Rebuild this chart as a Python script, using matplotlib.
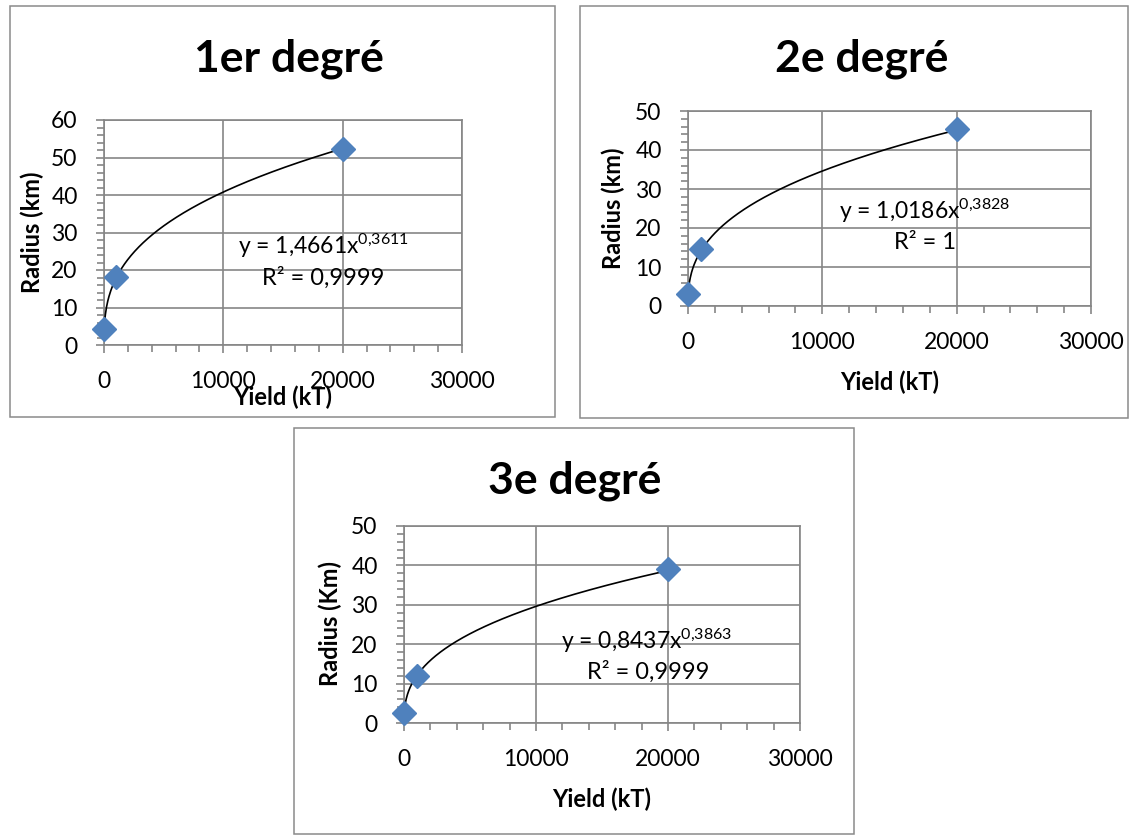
import matplotlib
matplotlib.use('Agg')
import matplotlib.pyplot as plt
import numpy as np
from matplotlib.patches import Rectangle
from matplotlib.ticker import MultipleLocator, FixedLocator

plt.rcParams['font.family'] = ['Lato', 'DejaVu Sans']
plt.rcParams['mathtext.default'] = 'regular'

# ---- data ----
yield_kt = [15, 1000, 20000]
radius_1 = [4.3, 18.1, 52.3]
radius_2 = [3.1, 14.6, 45.4]
radius_3 = [2.5, 11.9, 39.1]
titles = ['1er degré', '2e degré', '3e degré']
ylabels = ['Radius (km)', 'Radius (km)', 'Radius (Km)']
xlabel_text = 'Yield (kT)'
fit_a = [1.4661, 1.0186, 0.8437]
fit_b = [0.3611, 0.3828, 0.3863]
fit_a_txt = ['1,4661', '1,0186', '0,8437']
fit_b_txt = ['0{,}3611', '0{,}3828', '0{,}3863']
r2_text = ['0,9999', '1', '0,9999']
y_max = [60, 50, 50]
x_ticks = [0, 10000, 20000, 30000]

W, H = 1132, 835
fig = plt.figure(figsize=(W / 100, H / 100), dpi=100)

GRAY = '#868686'
BLUE = '#4F81BD'

def fx(px):
    return px / W

def fy(py):
    return 1 - py / H

# layout in pixels
layouts = [
    dict(ax=(104, 462, 120, 345), frame=(10, 6, 555, 417), title=(289, 59), ylab=(32, 232),
         xlab=(283, 397), eq=(323, 246), r2=(323, 278)),
    dict(ax=(688, 1091, 111, 306), frame=(580, 6, 1128, 418), title=(862, 59), ylab=(613, 208),
         xlab=(890, 382), eq=(925, 211), r2=(925, 243)),
    dict(ax=(404, 800, 526, 723), frame=(294, 428, 854, 834), title=(575, 481), ylab=(330, 624),
         xlab=(602, 799), eq=(647, 641), r2=(648, 672)),
]
radii = [radius_1, radius_2, radius_3]

for i, L in enumerate(layouts):
    x0, x1, yt, yb = L['ax']
    fl, ft, fr, fb = L['frame']
    fig.patches.append(Rectangle((fx(fl), fy(fb)), fx(fr - fl), (fb - ft) / H,
                                 transform=fig.transFigure, fill=False,
                                 edgecolor='#8a8a8a', lw=1.1, zorder=0))
    ax = fig.add_axes([fx(x0), fy(yb), fx(x1 - x0), (yb - yt) / H])
    ax.set_xlim(0, 30000)
    ax.set_ylim(0, y_max[i])
    ax.xaxis.set_major_locator(FixedLocator(x_ticks))
    ax.xaxis.set_minor_locator(MultipleLocator(2000))
    ax.yaxis.set_major_locator(MultipleLocator(10))
    ax.yaxis.set_minor_locator(MultipleLocator(2))
    ax.set_xticklabels([str(t) for t in x_ticks])
    ax.grid(True, which='major', color=GRAY, lw=1.2)
    ax.set_axisbelow(True)
    for s in ax.spines.values():
        s.set_color(GRAY)
        s.set_linewidth(1.2)
    ax.tick_params(which='major', direction='out', length=6, width=1.2, color=GRAY,
                   labelsize=16.5, labelcolor='black')
    ax.tick_params(axis='x', which='major', pad=13)
    ax.tick_params(axis='y', which='major', pad=13)
    ax.tick_params(which='minor', direction='out', length=5, width=1.2, color=GRAY)

    xs = np.linspace(yield_kt[0], yield_kt[-1], 400)
    ax.plot(xs, fit_a[i] * xs ** fit_b[i], color='black', lw=1.2, zorder=3)
    ax.plot(yield_kt, radii[i], linestyle='none', marker='D', markersize=12.5,
            color=BLUE, markeredgecolor=BLUE, zorder=4, clip_on=False)

    fig.text(fx(L['title'][0]), fy(L['title'][1]), titles[i], fontsize=32,
             fontweight='bold', ha='center', va='center')
    fig.text(fx(L['ylab'][0]), fy(L['ylab'][1]), ylabels[i], fontsize=17,
             fontweight='bold', ha='center', va='center', rotation=90)
    fig.text(fx(L['xlab'][0]), fy(L['xlab'][1]), xlabel_text, fontsize=17,
             fontweight='bold', ha='center', va='center')
    fig.text(fx(L['eq'][0]), fy(L['eq'][1]),
             'y = ' + fit_a_txt[i] + 'x$^{' + fit_b_txt[i] + '}$', fontsize=16.5,
             ha='center', va='center')
    fig.text(fx(L['r2'][0]), fy(L['r2'][1]), 'R² = ' + r2_text[i], fontsize=17,
             ha='center', va='center')

fig.savefig('out.png', dpi=100)
